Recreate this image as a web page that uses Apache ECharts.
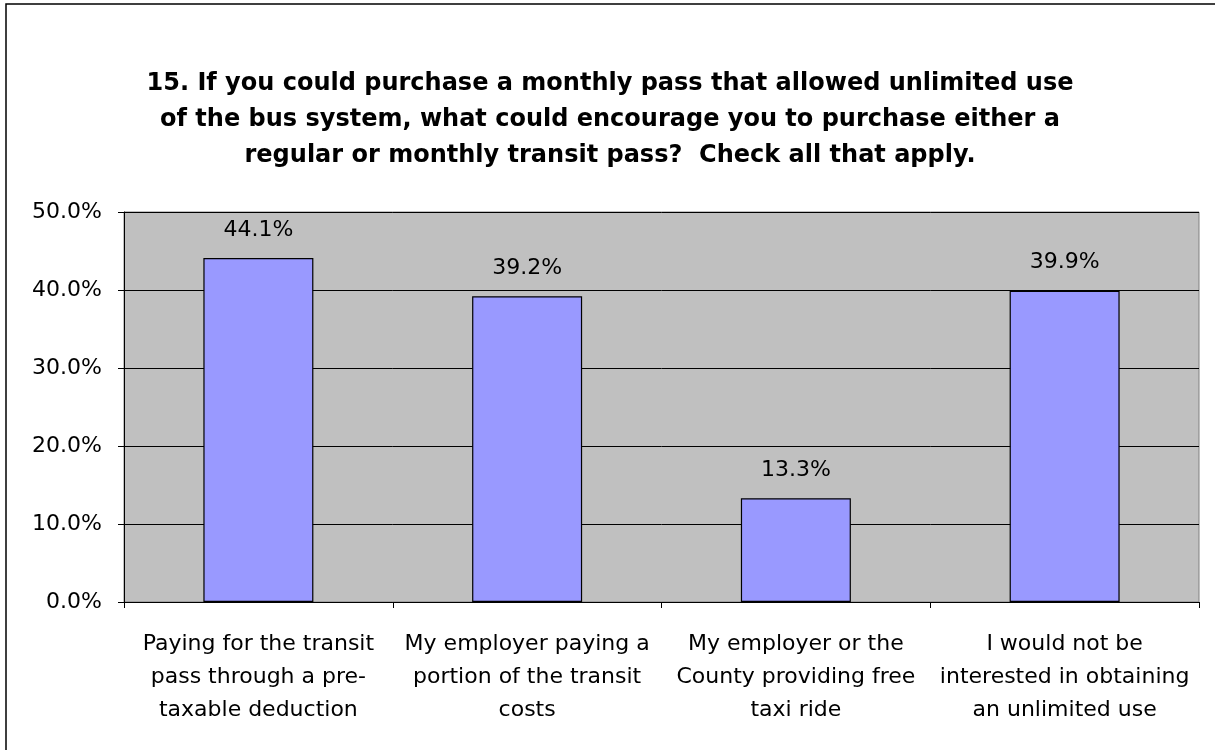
<!DOCTYPE html>
<html><head><meta charset="utf-8">
<script src="https://cdn.jsdelivr.net/npm/echarts@6/dist/echarts.min.js"></script>
<style>html,body{margin:0;padding:0;background:#fff}#c{width:1215px;height:750px}</style>
</head><body><div id="c"></div>
<script>
const titleText = "15. If you could purchase a monthly pass that allowed unlimited use\nof the bus system, what could encourage you to purchase either a\nregular or monthly transit pass?  Check all that apply.";
const categories = [
  "Paying for the transit\npass through a pre-\ntaxable deduction",
  "My employer paying a\nportion of the transit\ncosts",
  "My employer or the\nCounty providing free\ntaxi ride",
  "I would not be\ninterested in obtaining\nan unlimited use"
];
const values = [44.1, 39.2, 13.3, 39.9];
const yTicks = [0, 10, 20, 30, 40, 50];

const chart = echarts.init(document.getElementById('c'), null, {renderer: 'canvas'});
const font = '"DejaVu Sans", sans-serif';
chart.setOption({
  animation: false,
  backgroundColor: '#ffffff',
  title: {
    text: titleText,
    left: 605, top: 61, textAlign: 'center',
    textStyle: {fontFamily: font, fontWeight: 'bold', fontSize: 24, lineHeight: 36, color: '#000'}
  },
  graphic: [{
    type: 'rect', shape: {x: 6, y: 4, width: 1240, height: 800},
    style: {fill: 'none', stroke: '#000', lineWidth: 1.5}, silent: true
  }],
  grid: {
    left: 124, right: 16, top: 212, bottom: 148,
    show: true, backgroundColor: '#C0C0C0', borderColor: '#808080', borderWidth: 1
  },
  xAxis: {
    type: 'category', data: categories, boundaryGap: true,
    axisLine: {lineStyle: {color: '#000', width: 1}},
    axisTick: {show: true, length: 6, lineStyle: {color: '#000'}},
    axisLabel: {fontFamily: font, fontSize: 22, lineHeight: 33, color: '#000', margin: 26, interval: 0}
  },
  yAxis: {
    type: 'value', min: 0, max: 50, interval: 10,
    axisLine: {show: true, lineStyle: {color: '#000', width: 1}},
    axisTick: {show: true, length: 6, lineStyle: {color: '#000'}},
    splitLine: {show: true, lineStyle: {color: '#000', width: 1}},
    axisLabel: {fontFamily: font, fontSize: 22, color: '#000', margin: 22,
      formatter: v => yTicks.includes(v) ? v.toFixed(1) + '%' : ''}
  },
  series: [{
    type: 'bar', data: values, barWidth: 110,
    itemStyle: {color: '#9999FF', borderColor: '#000', borderWidth: 1.2},
    label: {show: true, position: 'top', distance: 17, fontFamily: font, fontSize: 22, color: '#000',
      formatter: p => p.value.toFixed(1) + '%'}
  }]
});
</script></body></html>
